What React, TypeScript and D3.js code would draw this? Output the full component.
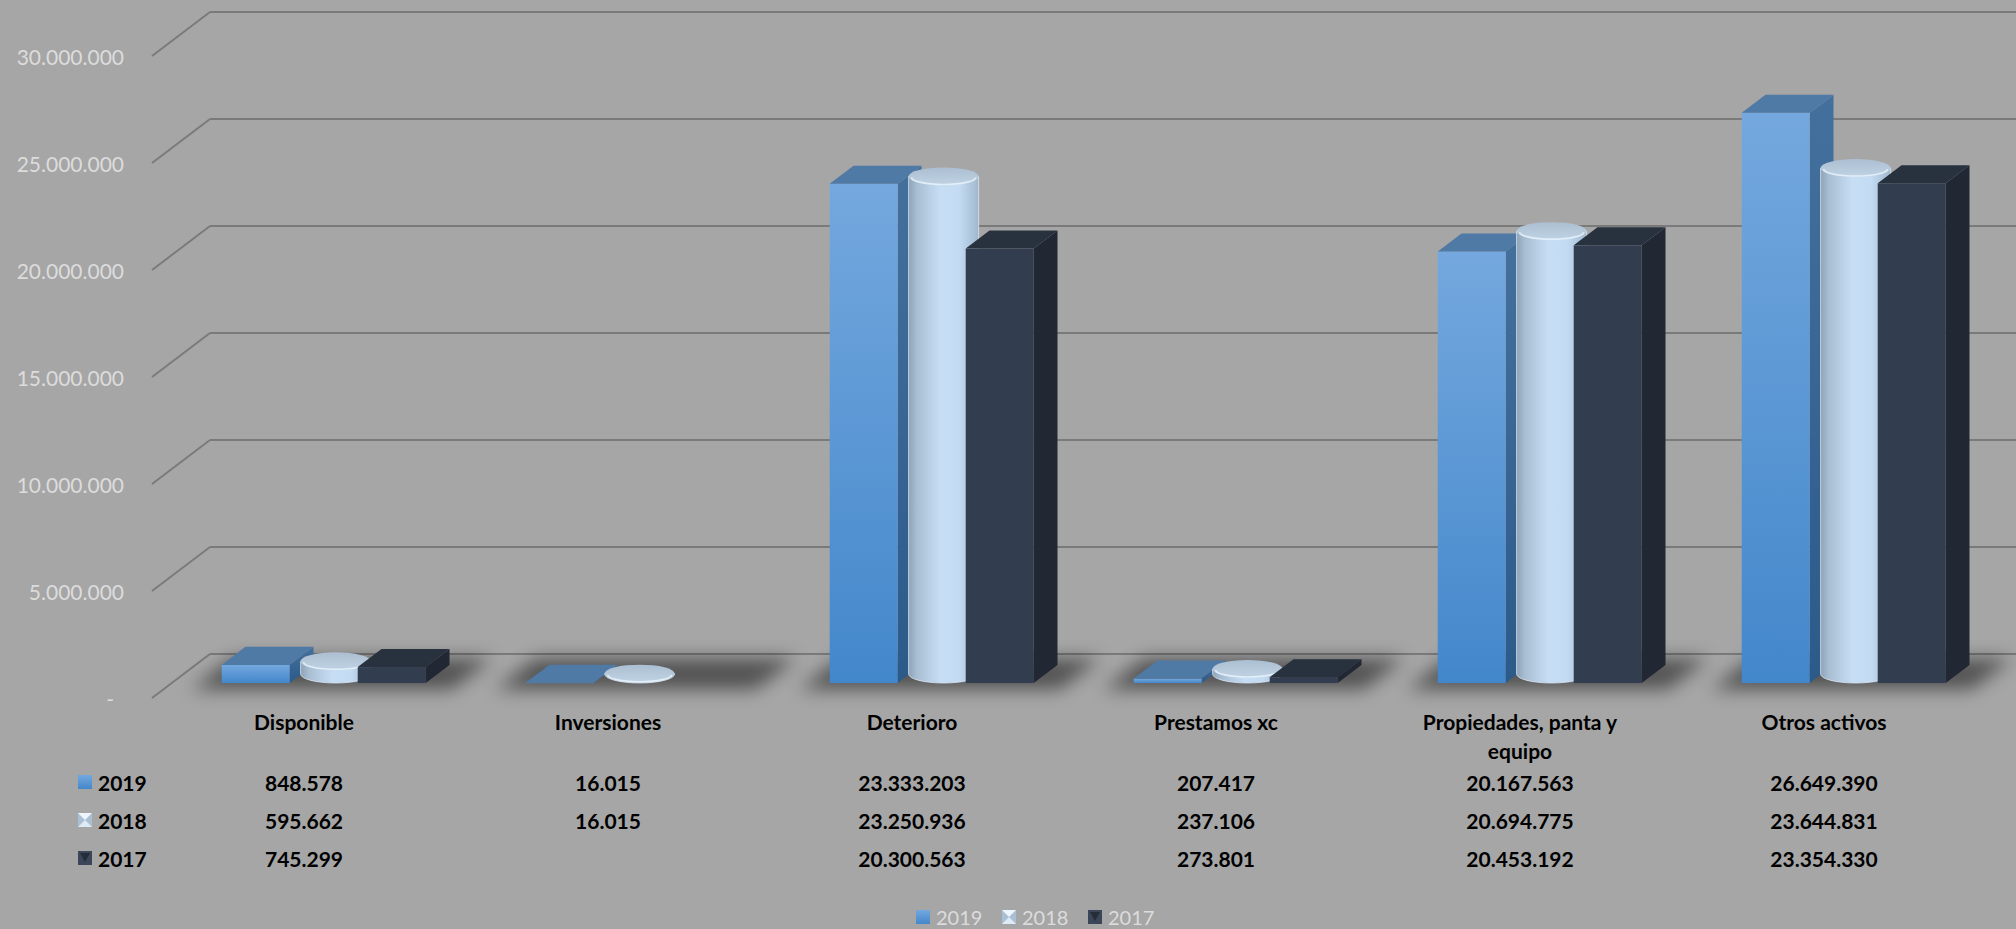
import React from "react";
import * as d3 from "d3";

const categoryLines: string[][] = [
  ["Disponible"],
  ["Inversiones"],
  ["Deterioro"],
  ["Prestamos xc"],
  ["Propiedades, panta y", "equipo"],
  ["Otros activos"],
];
const seriesNames = ["2019", "2018", "2017"];
const values2019: (number | null)[] = [848578, 16015, 23333203, 207417, 20167563, 26649390];
const values2018: (number | null)[] = [595662, 16015, 23250936, 237106, 20694775, 23644831];
const values2017: (number | null)[] = [745299, null, 20300563, 273801, 20453192, 23354330];
const yTicks = [0, 5000000, 10000000, 15000000, 20000000, 25000000, 30000000];

const W = 2016;
const H = 929;
const ORIGIN_X = 152;
const FLOOR_FRONT_Y = 698;
const DEPTH_DX = 58;
const DEPTH_DY = -44;
const Z_FRONT = 0.34;
const Z_BACK = 0.75;

const locale = d3.formatLocale({ thousands: ".", decimal: ",", grouping: [3], currency: ["$", ""] });
const fmt = locale.format(",d");

export default function App() {
  const allSeries = [values2019, values2018, values2017];
  const x = d3.scaleBand<number>().domain(d3.range(categoryLines.length)).range([0, 1824]).paddingInner(0).paddingOuter(0);
  const sx = d3.scaleBand<string>().domain(seriesNames).range([-102, 102]);
  const h = d3.scaleLinear().domain([0, 30000000]).range([0, 642]);
  const px = (wx: number, z: number) => ORIGIN_X + wx + z * DEPTH_DX;
  const py = (z: number, v: number) => FLOOR_FRONT_Y + z * DEPTH_DY - h(v);
  const dx = (Z_BACK - Z_FRONT) * DEPTH_DX;
  const dy = (Z_BACK - Z_FRONT) * DEPTH_DY;
  const bw = sx.bandwidth();

  const catCenter = (i: number) => (x(i) as number) + x.bandwidth() / 2;

  const grid = yTicks.map((t) => {
    const yf = py(0, t);
    const yb = py(1, t);
    return (
      <g key={"g" + t}>
        <line x1={px(0, 0)} y1={yf} x2={px(0, 1)} y2={yb} stroke="#7a7a7a" strokeWidth={1.9} />
        <line x1={px(0, 1)} y1={yb} x2={W} y2={yb} stroke="#7a7a7a" strokeWidth={1.9} />
        <text
          x={t === 0 ? 114 : 124}
          y={yf}
          textAnchor="end"
          dominantBaseline="central"
          fill="#dcdcdc"
          fontSize={21}
          fontFamily="Lato, 'Open Sans', sans-serif"
        >
          {t === 0 ? "-" : fmt(t)}
        </text>
      </g>
    );
  });

  const shadows = categoryLines.map((_, i) => {
    const c = catCenter(i);
    const l = c - 102 - 22;
    const r = c + 102 + 34;
    const z0 = 0.2;
    const z1 = 0.9;
    const pts = [
      [px(l, z0), py(z0, 0)],
      [px(r, z0), py(z0, 0)],
      [px(r, z1), py(z1, 0)],
      [px(l, z1), py(z1, 0)],
    ];
    return (
      <g key={"s" + i}>
        <polygon points={pts.map((p) => p.join(",")).join(" ")} fill="#000" opacity={0.5} filter="url(#blurS)" />
        <line
          x1={px(c - 150, 0.04)}
          x2={px(c + 130, 0.04)}
          y1={py(0.04, 0)}
          y2={py(0.04, 0)}
          stroke="url(#floorLine)"
          strokeWidth={1.5}
        />
      </g>
    );
  });

  const bars: React.ReactNode[] = [];
  categoryLines.forEach((_, i) => {
    const c = catCenter(i);
    seriesNames.forEach((s, si) => {
      const v = allSeries[si][i];
      if (v === null || v === undefined) return;
      const wl = c + (sx(s) as number);
      const X0 = px(wl, Z_FRONT);
      const Yb = py(Z_FRONT, 0);
      const hh = h(v);
      const Yt = Yb - hh;
      if (si === 1) {
        const zm = (Z_FRONT + Z_BACK) / 2;
        const cx = px(wl + bw / 2, zm);
        const rx = 35;
        const ry = 9;
        const yBot = py(zm, 0);
        const yTop = py(zm, v);
        bars.push(
          <g key={"b" + i + s}>
            <path
              d={`M${cx - rx},${yTop} L${cx - rx},${yBot} A${rx},${ry} 0 0 0 ${cx + rx},${yBot} L${cx + rx},${yTop} Z`}
              fill="url(#cylBody)"
              stroke="#d9e6f2"
              strokeWidth={0.8}
            />
            <ellipse cx={cx} cy={yTop} rx={rx} ry={ry} fill="url(#cylTop)" />
            <path
              d={`M${cx - rx + 3},${yTop + 1} A${rx - 3},${ry - 2} 0 0 0 ${cx + rx - 3},${yTop + 1}`}
              fill="none"
              stroke="#e6f1fb"
              strokeWidth={1.6}
              opacity={0.9}
            />
          </g>
        );
      } else {
        const isBlue = si === 0;
        const front = isBlue ? "url(#blueFront)" : "#323d4f";
        const side = isBlue ? "url(#blueSide)" : "#212833";
        const top = isBlue ? "#4f7aa6" : "#28313e";
        const sidePts = [
          [X0 + bw, Yt],
          [X0 + bw + dx, Yt + dy],
          [X0 + bw + dx, Yb + dy],
          [X0 + bw, Yb],
        ];
        const topPts = [
          [X0, Yt],
          [X0 + dx, Yt + dy],
          [X0 + bw + dx, Yt + dy],
          [X0 + bw, Yt],
        ];
        bars.push(
          <g key={"b" + i + s}>
            <polygon points={sidePts.map((p) => p.join(",")).join(" ")} fill={side} />
            <rect x={X0} y={Yt} width={bw} height={Math.max(hh, 0.5)} fill={front} />
            <polygon points={topPts.map((p) => p.join(",")).join(" ")} fill={top} />
          </g>
        );
      }
    });
  });

  const font = "Lato, 'Open Sans', sans-serif";
  const catLabels = categoryLines.map((lines, i) => (
    <text key={"c" + i} x={px(catCenter(i), 0)} y={721} textAnchor="middle" fontWeight={700} fontSize={21} fontFamily={font} fill="#000">
      {lines.map((ln, li) => (
        <tspan key={li} x={px(catCenter(i), 0)} y={721 + li * 29} dominantBaseline="central">
          {ln}
        </tspan>
      ))}
    </text>
  ));

  const rowY = [782, 820, 858];
  const tableVals = allSeries.map((arr, si) =>
    arr.map((v, i) =>
      v === null ? null : (
        <text
          key={"t" + si + "-" + i}
          x={px(catCenter(i), 0)}
          y={rowY[si]}
          textAnchor="middle"
          dominantBaseline="central"
          fontWeight={700}
          fontSize={21}
          fontFamily={font}
          fill="#000"
        >
          {fmt(v)}
        </text>
      )
    )
  );

  const marker = (si: number, mx: number, my: number, key: string) => {
    const s = 14;
    if (si === 0) return <rect key={key} x={mx} y={my} width={s} height={s} fill="url(#blueFront)" />;
    if (si === 1)
      return (
        <g key={key}>
          <rect x={mx} y={my} width={s} height={s} fill="#a9bfd4" />
          <polygon points={`${mx},${my} ${mx + s},${my} ${mx + s / 2},${my + s / 2}`} fill="#eef5fc" />
          <polygon points={`${mx},${my + s} ${mx + s},${my + s} ${mx + s / 2},${my + s / 2}`} fill="#dfeaf5" />
        </g>
      );
    return (
      <g key={key}>
        <rect x={mx} y={my} width={s} height={s} fill="#3b4658" />
        <polygon points={`${mx + 2},${my + 2} ${mx + s - 2},${my + 2} ${mx + s / 2},${my + s - 3}`} fill="#252d39" />
      </g>
    );
  };

  const rowLabels = seriesNames.map((s, si) => (
    <g key={"r" + s}>
      {marker(si, 78, rowY[si] - 7, "rm" + s)}
      <text x={98} y={rowY[si]} dominantBaseline="central" fontWeight={700} fontSize={21} fontFamily={font} fill="#000">
        {s}
      </text>
    </g>
  ));

  const legendX = [916, 1002, 1088];
  const legend = seriesNames.map((s, si) => (
    <g key={"l" + s}>
      {marker(si, legendX[si], 910, "lm" + s)}
      <text x={legendX[si] + 20} y={917} dominantBaseline="central" fontSize={20} fontFamily={font} fill="#dcdcdc">
        {s}
      </text>
    </g>
  ));

  return (
    <>
      <style>{"body{margin:0;overflow:hidden}"}</style>
      <svg width={W} height={H} style={{ position: "absolute", left: 0, top: 0, display: "block" }}>
        <defs>
          <filter id="blurS" x="-50%" y="-200%" width="200%" height="500%">
            <feGaussianBlur stdDeviation="9" />
          </filter>
          <linearGradient id="blueFront" x1="0" y1="0" x2="0" y2="1">
            <stop offset="0%" stopColor="#74a8de" />
            <stop offset="100%" stopColor="#4387cb" />
          </linearGradient>
          <linearGradient id="blueSide" x1="0" y1="0" x2="0" y2="1">
            <stop offset="0%" stopColor="#44709d" />
            <stop offset="100%" stopColor="#2c5a89" />
          </linearGradient>
          <linearGradient id="cylBody" x1="0" y1="0" x2="1" y2="0">
            <stop offset="0%" stopColor="#8ea3b8" />
            <stop offset="12%" stopColor="#a8bed3" />
            <stop offset="45%" stopColor="#c6def4" />
            <stop offset="72%" stopColor="#c4dcf3" />
            <stop offset="92%" stopColor="#abc3d9" />
            <stop offset="100%" stopColor="#a0b5c9" />
          </linearGradient>
          <linearGradient id="cylTop" x1="0" y1="0" x2="0" y2="1">
            <stop offset="0%" stopColor="#acbfd2" />
            <stop offset="100%" stopColor="#c0d3e4" />
          </linearGradient>
          <linearGradient id="floorLine" x1="0" y1="0" x2="1" y2="0">
            <stop offset="0%" stopColor="#000" stopOpacity={0} />
            <stop offset="30%" stopColor="#000" stopOpacity={0.14} />
            <stop offset="70%" stopColor="#000" stopOpacity={0.14} />
            <stop offset="100%" stopColor="#000" stopOpacity={0} />
          </linearGradient>
        </defs>
        <rect x={0} y={0} width={W} height={H} fill="#a6a6a6" />
        {grid}
        {shadows}
        {bars}
        {catLabels}
        {tableVals}
        {rowLabels}
        {legend}
      </svg>
    </>
  );
}
